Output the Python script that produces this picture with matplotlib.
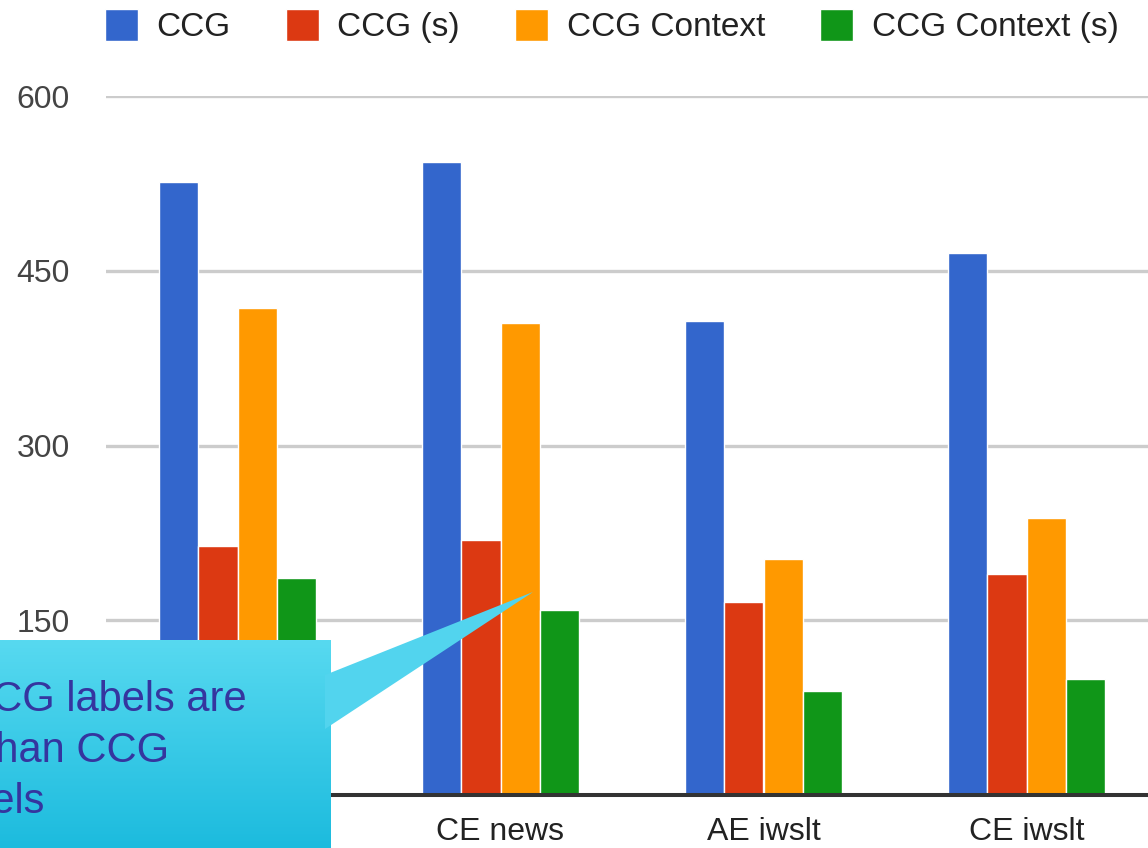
import numpy as np
import matplotlib.pyplot as plt

plt.rcParams['font.family'] = ['Liberation Sans', 'DejaVu Sans']

categories = ['AE news', 'CE news', 'AE iwslt', 'CE iwslt']
series_names = ['CCG', 'CCG (s)', 'CCG Context', 'CCG Context (s)']
ccg = [526, 543, 407, 465]
ccg_s = [214, 219, 166, 190]
ccg_ctx = [418, 405, 203, 238]
ccg_ctx_s = [186, 159, 89, 100]
colors = ['#3366cc', '#dc3912', '#ff9900', '#109618']
yticks = [150, 300, 450, 600]
note = 'The context CCG labels are\nfar fewer than CCG\nlabels'

W, H = 1148, 848
fig = plt.figure(figsize=(W / 100, H / 100), dpi=100)
ax = fig.add_axes([106 / W, 53 / H, 1052 / W, 699 / H])

x = np.arange(len(categories))
bw = 0.15
handles = []
for i, vals in enumerate([ccg, ccg_s, ccg_ctx, ccg_ctx_s]):
    b = ax.bar(x + (i - 1.5) * bw, vals, bw, color=colors[i],
               edgecolor='white', linewidth=1.0, zorder=3)
    handles.append(b)

ax.set_xlim(-0.5, 3.5)
ax.set_ylim(0, 600)
ax.set_yticks(yticks)
ax.set_xticks(x)
ax.set_xticklabels(categories)
ax.yaxis.grid(True, color='#cccccc', linewidth=2.4, zorder=0)
ax.set_axisbelow(True)
for s in ['top', 'right', 'left']:
    ax.spines[s].set_visible(False)
ax.spines['bottom'].set_color('#333333')
ax.spines['bottom'].set_linewidth(2.9)
ax.spines['bottom'].set_zorder(4)
ax.tick_params(axis='y', length=0, pad=26, labelsize=23, labelcolor='#444444')
ax.tick_params(axis='x', length=0, pad=16, labelsize=23, labelcolor='#222222')

fig.legend([h[0] for h in handles], series_names, loc='upper left',
           bbox_to_anchor=(105 / W, 1 - 9 / H), ncol=4, frameon=False,
           fontsize=24, handlelength=1.0, handleheight=1.1,
           handletextpad=0.55, columnspacing=1.65, borderaxespad=0,
           borderpad=0, labelcolor='#222222')

# callout overlay in pixel coords
ov = fig.add_axes([0, 0, 1, 1], zorder=5)
ov.set_xlim(0, W)
ov.set_ylim(H, 0)
ov.axis('off')
ov.add_patch(plt.Polygon([[325, 675], [533, 592], [325, 729]],
                         closed=True, color='#52d4ee', linewidth=0))
top = np.array([0x57, 0xd9, 0xf0]) / 255
bot = np.array([0x16, 0xb8, 0xdc]) / 255
t = np.linspace(0, 1, 100)[:, None, None]
grad = top * (1 - t) + bot * t
ov.imshow(grad, extent=(-10, 331, 870, 640), aspect='auto', origin='upper')
ov.set_xlim(0, W)
ov.set_ylim(H, 0)
ov.text(-10, 680, note, ha='center', va='top', multialignment='center',
        fontsize=30, color='#35359f', linespacing=1.36)

fig.savefig('out.png', dpi=100)
